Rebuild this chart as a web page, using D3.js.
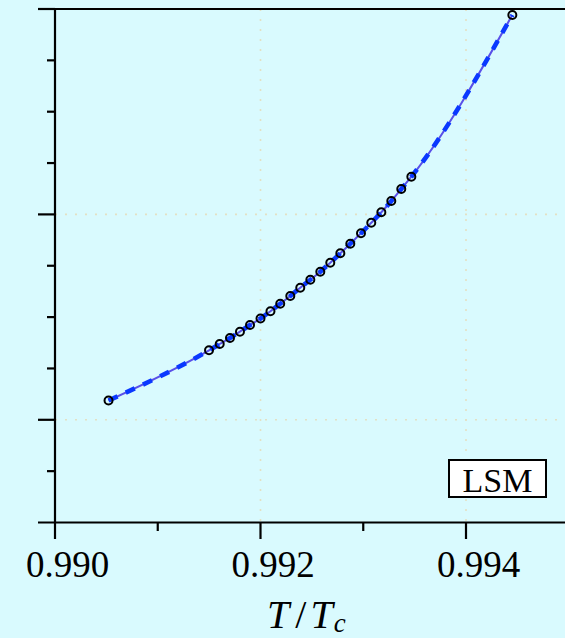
<!DOCTYPE html>
<html>
<head>
<meta charset="utf-8">
<script src="https://cdn.jsdelivr.net/npm/d3@7"></script>
<style>
  html, body { margin: 0; padding: 0; background: #d9fafe; }
  svg { display: block; }
</style>
</head>
<body>
<svg id="chart" width="565" height="638"></svg>
<script>
// Reduced temperature T/Tc of each sample
const tRatio = [0.990521, 0.991499, 0.991603, 0.991703, 0.991800, 0.991898,
  0.992000, 0.992097, 0.992192, 0.992290, 0.992387, 0.992485, 0.992582,
  0.992679, 0.992777, 0.992874, 0.992978, 0.993078, 0.993176, 0.993273,
  0.993370, 0.993468, 0.994451];
// Measured quantity (unlabelled axis, arbitrary units)
const yValues = [2.376, 3.353, 3.476, 3.593, 3.716, 3.846, 3.973, 4.115,
  4.261, 4.411, 4.573, 4.728, 4.884, 5.059, 5.242, 5.429, 5.632, 5.838,
  6.041, 6.261, 6.495, 6.734, 9.883];

const xTickValues = [0.990, 0.992, 0.994];
const xTickLabels = ["0.990", "0.992", "0.994"];
const xMinorTicks = [0.991, 0.993];
const yMajorTicks = [2, 6, 10];
const yMinorTicks = [1, 3, 4, 5, 7, 8, 9];
const methodLabel = "LSM";

const points = tRatio.map((t, i) => ({ t, v: yValues[i] }));

const svg = d3.select("#chart");
const plotL = 55, plotT = 9, plotR = 568.75, plotB = 522.5;

const x = d3.scaleLinear().domain([0.990, 0.995]).range([plotL, plotR]);
const y = d3.scaleLinear().domain([0, 10]).range([plotB, plotT]);

const ink = "#000";

// dotted grid on the major ticks
const grid = svg.append("g")
  .attr("stroke", "#e4e0c2").attr("stroke-width", 1.6)
  .attr("stroke-dasharray", "2,8");
grid.selectAll(".gx").data(xTickValues.slice(1)).join("line")
  .attr("x1", d => x(d)).attr("x2", d => x(d))
  .attr("y1", plotT).attr("y2", plotB);
grid.selectAll(".gy").data(yMajorTicks.slice(0, -1)).join("line")
  .attr("x1", plotL).attr("x2", plotR)
  .attr("y1", d => y(d)).attr("y2", d => y(d));

// curves through the samples
const line = d3.line()
  .x(d => x(d.t)).y(d => y(d.v))
  .curve(d3.curveMonotoneX);

svg.append("path").datum(points)
  .attr("d", line)
  .attr("fill", "none")
  .attr("stroke", "#5a50e8")
  .attr("stroke-width", 2);

svg.append("path").datum(points)
  .attr("d", line)
  .attr("fill", "none")
  .attr("stroke", "#0a38ff")
  .attr("stroke-width", 4.6)
  .attr("stroke-dasharray", "10,9");

// sample markers
svg.append("g").selectAll("circle").data(points).join("circle")
  .attr("cx", d => x(d.t)).attr("cy", d => y(d.v))
  .attr("r", 4)
  .attr("fill", "none")
  .attr("stroke", ink)
  .attr("stroke-width", 2);

// axes frame
const axes = svg.append("g").attr("stroke", ink).attr("stroke-width", 2.2);
axes.append("line").attr("x1", plotL - 17).attr("x2", 565)
  .attr("y1", y(10)).attr("y2", y(10));
axes.append("line").attr("x1", plotL - 17).attr("x2", 565)
  .attr("y1", y(0)).attr("y2", y(0));
axes.append("line").attr("x1", plotL).attr("x2", plotL)
  .attr("y1", plotT).attr("y2", plotB);

// y ticks (outward)
axes.selectAll(".ymaj").data(yMajorTicks).join("line")
  .attr("x1", plotL - 17).attr("x2", plotL)
  .attr("y1", d => y(d)).attr("y2", d => y(d));
axes.selectAll(".ymin").data(yMinorTicks).join("line")
  .attr("x1", plotL - 8).attr("x2", plotL)
  .attr("y1", d => y(d)).attr("y2", d => y(d));

// x ticks (outward)
axes.selectAll(".xmaj").data(xTickValues).join("line")
  .attr("x1", d => x(d)).attr("x2", d => x(d))
  .attr("y1", plotB).attr("y2", plotB + 16.5);
axes.selectAll(".xmin").data(xMinorTicks).join("line")
  .attr("x1", d => x(d)).attr("x2", d => x(d))
  .attr("y1", plotB).attr("y2", plotB + 8.5);

// x tick labels
svg.append("g").selectAll("text").data(xTickValues).join("text")
  .attr("x", d => x(d) + 12.5)
  .attr("y", 576.5)
  .attr("text-anchor", "middle")
  .attr("font-family", "'Liberation Serif', 'DejaVu Serif', serif")
  .attr("font-size", 37)
  .attr("fill", ink)
  .text((d, i) => xTickLabels[i]);

// axis title T/T_c
const title = svg.append("text")
  .attr("x", 267).attr("y", 628)
  .attr("font-family", "'Liberation Serif', 'DejaVu Serif', serif")
  .attr("font-size", 40)
  .attr("fill", ink);
title.append("tspan").attr("font-style", "italic").text("T");
title.append("tspan").attr("dx", 6).text("/");
title.append("tspan").attr("dx", 4).attr("font-style", "italic").text("T");
title.append("tspan").attr("dx", 1).attr("dy", 4).attr("font-style", "italic")
  .attr("font-size", 27).text("c");

// method label box
const box = svg.append("g");
box.append("rect")
  .attr("x", 449).attr("y", 460).attr("width", 97).attr("height", 37)
  .attr("fill", "#fff").attr("stroke", ink).attr("stroke-width", 2);
box.append("text")
  .attr("x", 497.5).attr("y", 492)
  .attr("text-anchor", "middle")
  .attr("font-family", "'Liberation Serif', 'DejaVu Serif', serif")
  .attr("font-size", 34)
  .attr("fill", ink)
  .text(methodLabel);
</script>
</body>
</html>
